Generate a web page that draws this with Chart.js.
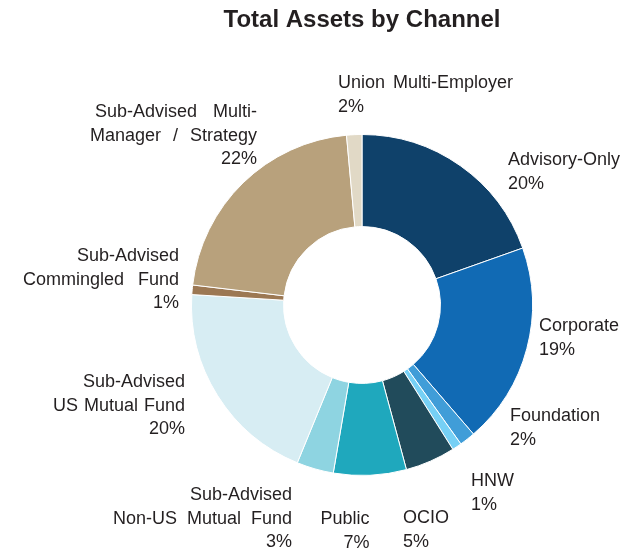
<!DOCTYPE html>
<html>
<head>
<meta charset="utf-8">
<script src="https://cdn.jsdelivr.net/npm/chart.js@4/dist/chart.umd.min.js"></script>
<style>
  html, body { margin: 0; padding: 0; background: #ffffff; }
  #c { display: block; }
</style>
</head>
<body>
<canvas id="c" width="630" height="552"></canvas>
<script>
// ---- Data ----
const categories = [
  'Advisory-Only', 'Corporate', 'Foundation', 'HNW', 'OCIO', 'Public',
  'Sub-Advised Non-US Mutual Fund', 'Sub-Advised US Mutual Fund',
  'Sub-Advised Commingled Fund', 'Sub-Advised Multi-Manager / Strategy',
  'Union Multi-Employer'
];
const values = [19.6, 19.1, 1.5, 0.9, 4.75, 6.9, 3.5, 19.8, 0.9, 21.7, 1.45];
const percentLabels = ['20%', '19%', '2%', '1%', '5%', '7%', '3%', '20%', '1%', '22%', '2%'];
const labelLines = [
  ['Advisory-Only'],
  ['Corporate'],
  ['Foundation'],
  ['HNW'],
  ['OCIO'],
  ['Public'],
  ['Sub-Advised', 'Non-US Mutual Fund'],
  ['Sub-Advised', 'US Mutual Fund'],
  ['Sub-Advised', 'Commingled Fund'],
  ['Sub-Advised Multi-', 'Manager / Strategy'],
  ['Union Multi-Employer']
];
const colors = [
  '#0f416a', '#116ab4', '#409dd8', '#76d0f5', '#214b5b', '#1fa8bd',
  '#8ed4e1', '#d7edf3', '#9c7853', '#b8a17c', '#e1d9c6'
];
const titleText = 'Total Assets by Channel';

// ---- Label layout (text placement only) ----
const labelLayout = [
  { x: 508, y: 165, align: 'left',  ws: [0] },
  { x: 539, y: 331, align: 'left',  ws: [0] },
  { x: 510, y: 421, align: 'left',  ws: [0] },
  { x: 471, y: 486, align: 'left',  ws: [0] },
  { x: 403, y: 523, align: 'left',  ws: [0] },
  { x: 369.5, y: 524, align: 'right', ws: [0] },
  { x: 292, y: 500, align: 'right', ws: [0, 5] },
  { x: 185, y: 387, align: 'right', ws: [0, 1] },
  { x: 179, y: 261, align: 'right', ws: [0, 9] },
  { x: 257, y: 117, align: 'right', ws: [11, 7] },
  { x: 338, y: 88,  align: 'left',  ws: [3] }
];
const lineHeight = 23.5;

const labelPlugin = {
  id: 'outsideLabels',
  afterDraw(chart) {
    const ctx = chart.ctx;
    const area = chart.chartArea;
    ctx.save();
    // Title
    ctx.fillStyle = '#231f20';
    ctx.font = 'bold 24px "Liberation Sans", Arial, sans-serif';
    ctx.textAlign = 'center';
    ctx.textBaseline = 'alphabetic';
    ctx.fillText(titleText, (area.left + area.right) / 2, 27);

    // Labels
    ctx.font = '18px "Liberation Sans", Arial, sans-serif';
    ctx.fillStyle = '#231f20';
    labelLines.forEach((lines, i) => {
      const L = labelLayout[i];
      ctx.textAlign = L.align;
      const all = lines.concat([percentLabels[i]]);
      all.forEach((t, j) => {
        const extra = (L.ws && L.ws[j]) || 0;
        ctx.wordSpacing = extra + 'px';
        ctx.fillText(t, L.x, L.y + j * lineHeight);
      });
      ctx.wordSpacing = '0px';
    });
    ctx.restore();
  }
};

new Chart(document.getElementById('c'), {
  type: 'doughnut',
  data: {
    labels: categories,
    datasets: [{
      data: values,
      backgroundColor: colors,
      borderColor: '#ffffff',
      borderWidth: 1
    }]
  },
  options: {
    responsive: false,
    devicePixelRatio: 1,
    animation: false,
    cutout: '46%',
    layout: { padding: { left: 191, right: 97, top: 134, bottom: 76 } },
    plugins: {
      legend: { display: false },
      tooltip: { enabled: false },
      title: { display: false }
    }
  },
  plugins: [labelPlugin]
});
</script>
</body>
</html>
